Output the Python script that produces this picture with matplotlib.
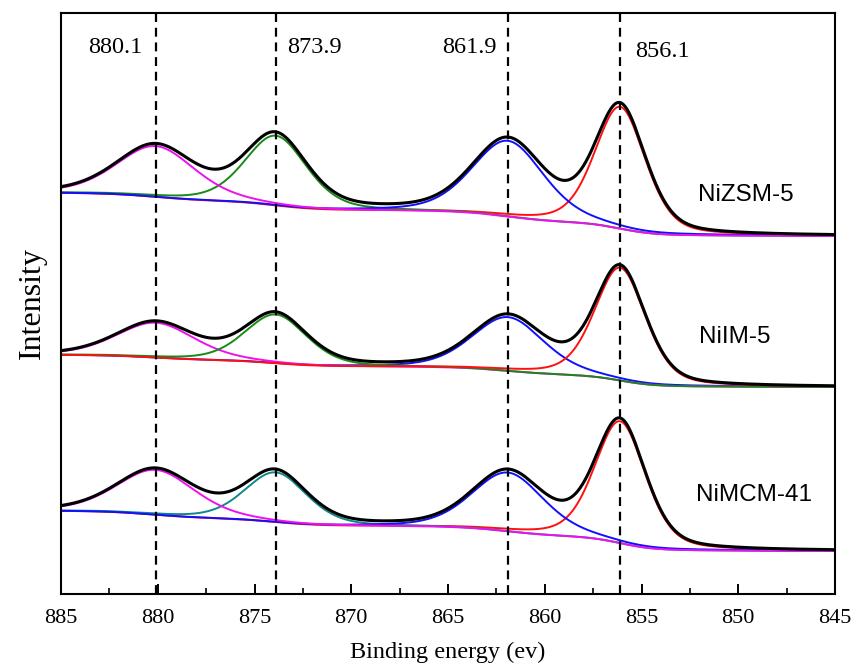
import numpy as np
import matplotlib
matplotlib.use("Agg")
import matplotlib.pyplot as plt
import matplotlib.transforms as mtransforms

# Ni 2p fitted components (intensity in arbitrary units)
samples = ["NiZSM-5", "NiIM-5", "NiMCM-41"]
centers = [880.1, 873.9, 861.9, 856.1]
fwhm = [4.8, 3.8, 4.4, 3.1]
heights_zsm = [51, 70, 76, 122]
heights_im = [35, 49, 54, 113]
heights_mcm = [45, 50, 59, 122]
bg_low_be = [358, 207, 43]     # background level at 845 eV
bg_high_be = [401, 239, 83]    # background level at 885 eV
peak_labels = ["880.1", "873.9", "861.9", "856.1"]

heights = [heights_zsm, heights_im, heights_mcm]
comp_colors = [
    ["#ee10ee", "#178a17", "#1010ff", "#ff1010"],
    ["#ee10ee", "#178a17", "#1010ff", "#ff1010"],
    ["#ee10ee", "#108888", "#1010ff", "#ff1010"],
]
# drawing order of components per spectrum (index into centers)
draw_order = [[3, 1, 2, 0], [2, 0, 1, 3], [3, 1, 2, 0]]


def pseudo_voigt(x, c, h, w, eta=0.35):
    g = np.exp(-4 * np.log(2) * (x - c) ** 2 / w ** 2)
    l = 1.0 / (1 + 4 * (x - c) ** 2 / w ** 2)
    return h * (eta * l + (1 - eta) * g)


x = np.linspace(845, 885, 1601)

fig = plt.figure(figsize=(8.54, 6.68), dpi=100)
ax = fig.add_axes([61 / 854, 1 - 594 / 668, 774 / 854, 581 / 668])

for k, name in enumerate(samples):
    peaks = [pseudo_voigt(x, c, h, w) for c, h, w in zip(centers, heights[k], fwhm)]
    total_peaks = np.sum(peaks, axis=0)
    # Shirley-type step background
    cum = np.cumsum(total_peaks)
    s = cum / cum[-1]
    bg = bg_low_be[k] + (bg_high_be[k] - bg_low_be[k]) * s
    for i in draw_order[k]:
        ax.plot(x, bg + peaks[i], color=comp_colors[k][i], lw=1.4)
    ax.plot(x, bg + total_peaks, color="black", lw=2.2)

for c in centers:
    ax.axvline(c, color="black", lw=1.6, dashes=(4.0, 2.6))

trans = mtransforms.blended_transform_factory(ax.transData, ax.transAxes)
label_x = [882.2, 871.9, 863.9, 853.9]
label_y = [0.94, 0.94, 0.941, 0.933]
for t, lx, ly in zip(peak_labels, label_x, label_y):
    ax.text(lx, ly, t, transform=trans, ha="center", va="center",
            fontsize=17.5, family="Liberation Serif")

name_pos = [(849.6, 399), (850.2, 257), (849.2, 99)]
for name, (nx, ny) in zip(samples, name_pos):
    ax.text(nx, ny, name, ha="center", va="center", fontsize=17.5,
            family="Liberation Sans")

ax.set_xlim(885, 845)
ax.set_ylim(0, 581)
ax.set_xticks(np.arange(845, 886, 5))
ax.set_xticks(np.arange(845, 886, 2.5), minor=True)
ax.set_yticks([])
ax.tick_params(axis="x", which="major", direction="in", length=7, width=1.4,
               labelsize=16, pad=11)
ax.tick_params(axis="x", which="minor", direction="in", length=4, width=1.2)
for lbl in ax.get_xticklabels():
    lbl.set_family("Liberation Serif")
for sp in ax.spines.values():
    sp.set_linewidth(1.5)

ax.set_xlabel("Binding energy (ev)", fontsize=17.5, family="Liberation Serif",
              labelpad=10)
ax.set_ylabel("Intensity", fontsize=23, family="Liberation Serif", labelpad=10)

fig.savefig("out.png", dpi=100)
